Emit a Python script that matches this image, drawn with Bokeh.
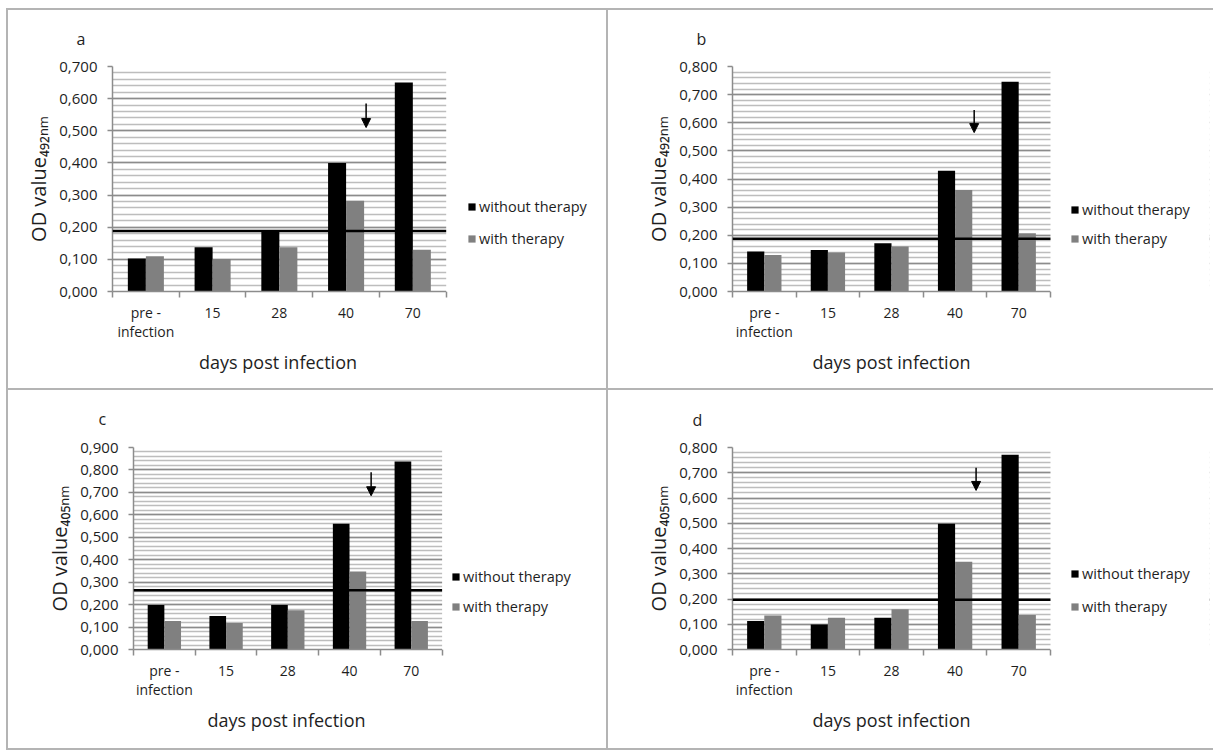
from bokeh.plotting import figure
from bokeh.layouts import column, row
from bokeh.models import (FixedTicker, Span, Legend, LegendItem, Arrow, Spacer, BoxAnnotation,
                          NormalHead, Range1d, CustomJSTickFormatter, ColumnDataSource, Title)
from bokeh.embed import file_html
from bokeh.resources import INLINE

FONT = "Open Sans"

# ---------------- data ----------------
categories = ["pre -\ninfection", "15", "28", "40", "70"]
series_labels = ["without therapy", "with therapy"]
panel_letters = ["a", "b", "c", "d"]
y_titles = ["OD value\u2084\u2089\u2082\u2099\u2098", "OD value\u2084\u2089\u2082\u2099\u2098",
            "OD value\u2084\u2080\u2085\u2099\u2098", "OD value\u2084\u2080\u2085\u2099\u2098"]
x_title = "days post infection"
y_tops = [0.7, 0.8, 0.9, 0.8]

without_a = [0.103, 0.138, 0.188, 0.400, 0.650]
with_a = [0.110, 0.101, 0.138, 0.282, 0.130]
without_b = [0.142, 0.148, 0.172, 0.429, 0.746]
with_b = [0.130, 0.139, 0.160, 0.361, 0.207]
without_c = [0.198, 0.149, 0.198, 0.560, 0.838]
with_c = [0.127, 0.118, 0.175, 0.347, 0.127]
without_d = [0.113, 0.099, 0.126, 0.498, 0.771]
with_d = [0.135, 0.126, 0.159, 0.348, 0.137]

cutoffs = [0.188, 0.188, 0.264, 0.197]

# arrows (x in category units from the left edge of the axis, y in OD units)
arrow_x = [3.80, 3.80, 3.85, 3.83]
arrow_y_start = [0.585, 0.645, 0.790, 0.720]
arrow_y_end = [0.510, 0.565, 0.685, 0.630]

without_all = [without_a, without_b, without_c, without_d]
with_all = [with_a, with_b, with_c, with_d]

# ---------------- layout geometry ----------------
# (fig_w, fig_h, border widths (t, r, b, l), frame_left, frame_top, chart_w, frame_h,
#  legend_x (from chart right), legend_y (from frame bottom), legend_spacing,
#  letter_offset, letter_standoff)
BW = 2
geoms = [
    (602, 382, (BW, BW, BW, BW), 104, 56, 331, 221, 24, 43, 12, -36, 30),
    (605, 382, (BW, 0, BW, 0), 124, 56, 318, 221, 20, 43, 9, -36, 29),
    (602, 360, (0, BW, BW, BW), 125, 57, 306, 200, 12, 33, 10, -35, 31),
    (605, 360, (0, 0, BW, 0), 124, 57, 318, 200, 20, 33, 13, -40, 30),
]
X_TITLE_HALF_WIDTH = 79
BORDER_COLOR = "#b4b4b4"

BLACK = "#000000"
GREY = "#808080"
TEXT = "#1e1e1e"
AXIS = "#8c8c8c"


def make_panel(i):
    (W, H, (bt, br, bb, bl), L, T, FW, FH,
     lx, ly, lsp, let_off, let_standoff) = geoms[i]
    cw, ch = W - bl - br, H - bt - bb
    ymax = y_tops[i]
    n = len(categories)
    R = 4
    frame_w = cw - L - R          # frame extends under the legend area
    x_end = n * frame_w / FW      # category scale: FW pixels per n categories

    p = figure(width=W, height=H, x_range=Range1d(0, x_end), y_range=Range1d(0, ymax),
               output_backend="svg", toolbar_location=None,
               min_border_left=L, min_border_top=T,
               min_border_right=R, min_border_bottom=ch - T - FH,
               background_fill_color="white", border_fill_color="white",
               outline_line_color=None)
    p.styles = {"border-style": "solid", "border-color": BORDER_COLOR,
                "border-width": f"{bt}px {br}px {bb}px {bl}px",
                "box-sizing": "border-box"}

    x_without = [k + 0.5 - 0.135 for k in range(n)]
    x_with = [k + 0.5 + 0.135 for k in range(n)]
    src = ColumnDataSource(dict(xw=x_without, xt=x_with,
                                without=without_all[i], withv=with_all[i]))
    r1 = p.vbar(x="xw", top="without", width=0.27, source=src,
                fill_color=BLACK, line_color=None)
    r2 = p.vbar(x="xt", top="withv", width=0.27, source=src,
                fill_color=GREY, line_color=None)

    # y axis and grid
    major = [round(k * 0.1, 1) for k in range(int(round(ymax * 10)) + 1)]
    minor = [round(k * 0.02, 2) for k in range(int(round(ymax * 50)) + 1)]
    yt = FixedTicker(ticks=major, minor_ticks=minor)
    p.yaxis.ticker = yt
    p.ygrid.ticker = yt
    p.ygrid.grid_line_color = AXIS
    p.ygrid.grid_line_width = 1.5
    p.ygrid.minor_grid_line_color = "#bdbdbd"
    p.ygrid.minor_grid_line_width = 1.5
    p.xgrid.visible = False
    p.yaxis.formatter = CustomJSTickFormatter(code="return tick.toFixed(3).replace('.', ',');")
    p.yaxis.axis_line_color = AXIS
    p.yaxis.axis_line_width = 1.5
    p.yaxis.major_tick_line_color = AXIS
    p.yaxis.major_tick_line_width = 1.5
    p.yaxis.major_tick_out = 5
    p.yaxis.major_tick_in = 0
    p.yaxis.minor_tick_out = 0
    p.yaxis.minor_tick_in = 0
    p.yaxis.major_label_standoff = 10
    p.yaxis.major_label_text_font = FONT
    p.yaxis.major_label_text_font_size = "15px"
    p.yaxis.major_label_text_color = TEXT
    p.yaxis.axis_label = y_titles[i]
    p.yaxis.axis_label_text_font = FONT
    p.yaxis.axis_label_text_font_size = "20px"
    p.yaxis.axis_label_text_font_style = "normal"
    p.yaxis.axis_label_text_color = TEXT
    p.yaxis.axis_label_standoff = 4

    # x axis (tick marks between categories, labels under categories)
    xt = FixedTicker(ticks=[k + 0.5 for k in range(n)], minor_ticks=list(range(n + 1)))
    p.xaxis.ticker = xt
    p.xaxis.bounds = (0, n)
    p.xaxis.major_label_overrides = {k + 0.5: categories[k] for k in range(n)}
    p.xaxis.axis_line_color = AXIS
    p.xaxis.axis_line_width = 1.5
    p.xaxis.major_tick_out = 0
    p.xaxis.major_tick_in = 0
    p.xaxis.minor_tick_out = 6
    p.xaxis.minor_tick_in = 0
    p.xaxis.minor_tick_line_color = AXIS
    p.xaxis.minor_tick_line_width = 1.5
    p.xaxis.major_label_standoff = 5
    p.xaxis.major_label_text_font = FONT
    p.xaxis.major_label_text_font_size = "14px"
    p.xaxis.major_label_text_color = TEXT
    p.xaxis.major_label_text_line_height = 1.05

    # x-axis title, centred under the chart part of the frame
    p.add_layout(Title(text=x_title, align="left", offset=FW / 2 - X_TITLE_HALF_WIDTH,
                       vertical_align="bottom", standoff=6,
                       text_font=FONT, text_font_size="18px", text_font_style="normal",
                       text_color=TEXT), "below")

    # panel letter as title
    p.title.text = panel_letters[i]
    p.title.align = "left"
    p.title.vertical_align = "top"
    p.title.offset = let_off
    p.title.standoff = let_standoff
    p.title.text_font = FONT
    p.title.text_font_size = "16px"
    p.title.text_font_style = "normal"
    p.title.text_color = TEXT

    # cut-off line
    p.add_layout(Span(location=cutoffs[i], dimension="width",
                      line_color="black", line_width=2.5))

    # arrow
    p.add_layout(Arrow(end=NormalHead(size=9, fill_color="black", line_color="black"),
                       x_start=arrow_x[i], y_start=arrow_y_start[i],
                       x_end=arrow_x[i], y_end=arrow_y_end[i],
                       line_color="black", line_width=1.5))

    # blank out the area right of the chart (legend area)
    p.add_layout(BoxAnnotation(left=n, right=x_end * 1.2, bottom=-1, top=ymax * 2,
                               fill_color="white", fill_alpha=1.0, line_color=None))

    legend = Legend(items=[LegendItem(label=series_labels[0], renderers=[r1]),
                           LegendItem(label=series_labels[1], renderers=[r2])],
                    location=(FW + lx, ly), orientation="vertical",
                    glyph_width=9, glyph_height=9, label_height=20,
                    spacing=lsp, padding=0, margin=0,
                    background_fill_alpha=0, border_line_color=None,
                    label_text_font=FONT, label_text_font_size="14.5px",
                    label_text_color=TEXT, label_standoff=3)
    p.add_layout(legend)
    return p


panels = [make_panel(i) for i in range(4)]
layout = column(Spacer(height=8),
                row(Spacer(width=6), panels[0], panels[1]),
                row(Spacer(width=6), panels[2], panels[3]))

open("out.html", "w").write(file_html(layout, INLINE))
